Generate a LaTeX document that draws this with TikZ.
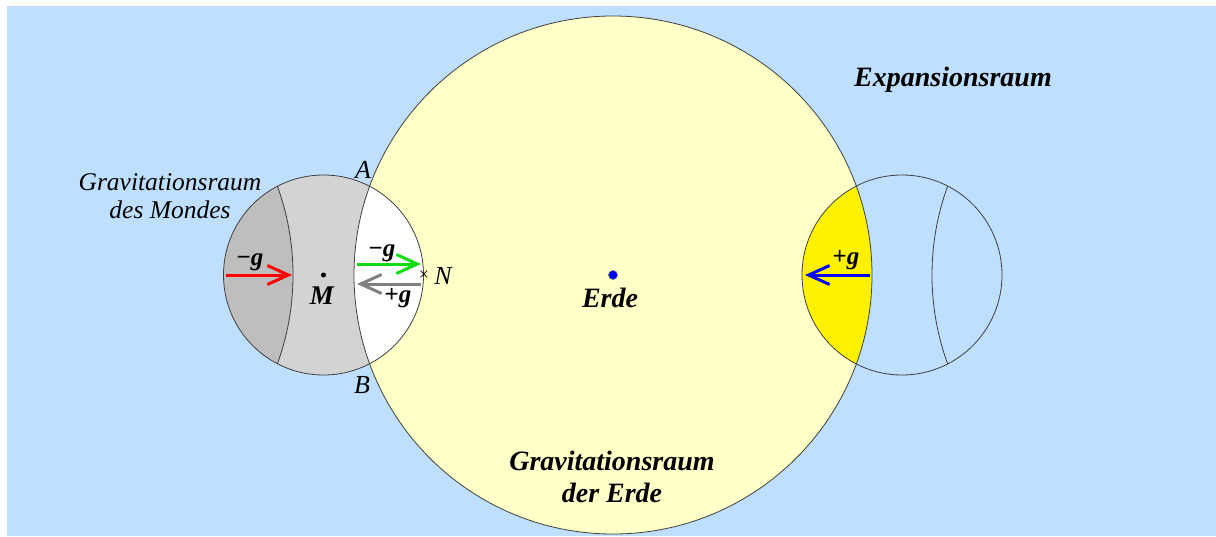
\documentclass[tikz,border=0pt]{standalone}
\usepackage{fontspec}
\setmainfont{Liberation Serif}
\usepackage{xcolor}
\usetikzlibrary{arrows.meta}
\definecolor{sky}{RGB}{190,223,255}
\definecolor{paleyel}{RGB}{255,255,200}
\definecolor{moonlt}{RGB}{211,211,211}
\definecolor{moondk}{RGB}{190,190,190}
\definecolor{grn}{RGB}{20,220,20}
\tikzset{
  rim/.style={draw=black!75, line width=0.8pt},
  garr/.style={line width=3pt, -{Straight Barb[length=21pt, width=19pt]}},
  big/.style={font=\fontsize{28}{32}\selectfont\bfseries\itshape, align=center, inner sep=0pt},
  sml/.style={font=\fontsize{25.5}{28}\selectfont\itshape, align=center, inner sep=0pt},
  gl/.style={font=\fontsize{25}{28}\selectfont\bfseries, inner sep=0pt},
  pt/.style={font=\fontsize{26}{30}\selectfont\itshape, inner sep=0pt}
}
\begin{document}
\begin{tikzpicture}[x=1pt, y=-1pt]
\useasboundingbox (0,0) rectangle (1216,536);
\fill[white] (0,0) rectangle (1216,536);
\fill[sky] (7,6) rectangle (1216,536);

\coordinate (E) at (613,275);
\coordinate (M) at (323.5,275);
\coordinate (R) at (902,275);
\coordinate (Mm) at (34,275);
\coordinate (Rm) at (1191,275);

\fill[paleyel] (E) circle[radius=259pt];

\fill[moonlt] (M) circle[radius=100pt];
\begin{scope}
\clip (M) circle[radius=100pt];
\fill[moondk] (Mm) circle[radius=259pt];
\fill[white] (E) circle[radius=259pt];
\draw[rim] (Mm) circle[radius=259pt];
\end{scope}
\draw[rim] (M) circle[radius=100pt];

\begin{scope}
\clip (R) circle[radius=100pt];
\fill[yellow] (E) circle[radius=259pt];
\draw[rim] (Rm) circle[radius=259pt];
\end{scope}
\draw[rim] (R) circle[radius=100pt];

\draw[rim] (E) circle[radius=259pt];

\node[sml] (gm) at (170,196) {Gravitationsraum\\des Mondes};
\node[big] (ge) at (612,477) {Gravitationsraum\\der Erde};
\node[big] (ex) at (953,80) {Expansionsraum};
\node[pt] (A) at (363,170) {A};
\node[pt] (B) at (362,385) {B};

\fill (M) circle[radius=2.5pt];
\node[pt, font=\fontsize{27}{30}\selectfont\bfseries\itshape] (Ml) at (322,296) {M};
\fill[blue, draw=black!60, line width=0.5pt] (E) circle[radius=4.5pt];
\node[big] (El) at (610,298) {Erde};
\node[inner sep=0pt, font=\fontsize{18}{18}\selectfont] (x) at (424,276) {×};
\node[pt] (N) at (443,276) {N};

\coordinate (r1) at (226,275);
\coordinate (r2) at (292,275);
\coordinate (g1) at (357,264);
\coordinate (g2) at (421,264);
\coordinate (k1) at (421,284);
\coordinate (k2) at (357,284);
\coordinate (b1) at (870,275);
\coordinate (b2) at (805,275);
\draw[garr, red] (r1) -- (r2);
\draw[garr, grn] (g1) -- (g2);
\draw[garr, gray] (k1) -- (k2);
\draw[garr, blue] (b1) -- (b2);

\node[gl] (lr) at (250,262) {−\textit{g}};
\node[gl] (lg) at (382,253) {−\textit{g}};
\node[gl] (lk) at (398,298) {+\textit{g}};
\node[gl] (lb) at (846,260) {+\textit{g}};
\end{tikzpicture}
\end{document}
